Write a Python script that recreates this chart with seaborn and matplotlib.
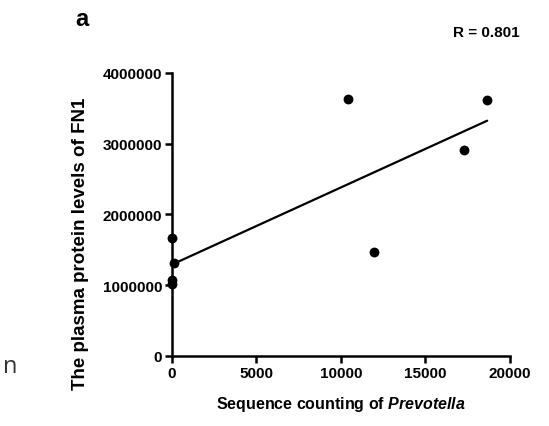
"""Scatter of FN1 plasma levels vs Prevotella counts, with linear fit"""

import matplotlib.pyplot as plt
import seaborn as sns
import pandas as pd

sns.set_theme(style="ticks")
plt.rcParams["font.family"] = ["Liberation Sans", "DejaVu Sans"]
plt.rcParams["text.color"] = "black"
plt.rcParams["axes.labelcolor"] = "black"
plt.rcParams["xtick.color"] = "black"
plt.rcParams["ytick.color"] = "black"
plt.rcParams["mathtext.fontset"] = "custom"
plt.rcParams["mathtext.it"] = "Liberation Sans:italic:bold"
plt.rcParams["mathtext.rm"] = "Liberation Sans:bold"

# values
prevotella = [0, 150, 0, 0, 10400, 11950, 17300, 18650]
fn1 = [1660000, 1310000, 1020000, 1080000, 3630000, 1470000, 2910000, 3620000]
x_ticks = [0, 5000, 10000, 15000, 20000]
y_ticks = [0, 1000000, 2000000, 3000000, 4000000]

df = pd.DataFrame({"prevotella": prevotella, "fn1": fn1})

fig = plt.figure(figsize=(5.49, 4.27), dpi=100)
ax = fig.add_axes([0.313, 0.164, 0.616, 0.663])

sns.regplot(
    data=df,
    x="prevotella",
    y="fn1",
    ci=None,
    truncate=True,
    color="black",
    scatter_kws={"s": 50, "clip_on": False, "zorder": 5, "linewidths": 0,
                 "alpha": 1, "color": "black"},
    line_kws={"lw": 1.6, "color": "black"},
    ax=ax,
)

ax.set_xlim(0, 20000)
ax.set_ylim(0, 4000000)
ax.set_xticks(x_ticks)
ax.set_yticks(y_ticks)
ax.set_xticklabels([str(v) for v in x_ticks], fontsize=11, fontweight="bold")
ax.set_yticklabels([str(v) for v in y_ticks], fontsize=11, fontweight="bold")
ax.tick_params(direction="out", length=5, width=1.8, color="black", pad=2)
for side in ["left", "bottom"]:
    ax.spines[side].set_linewidth(1.8)
    ax.spines[side].set_color("black")
sns.despine(ax=ax)

ax.set_xlabel("Sequence counting of $\\it{Prevotella}$", fontsize=11.5,
              fontweight="bold", labelpad=10)
ax.set_ylabel("The plasma protein levels of FN1", fontsize=13.5,
              fontweight="bold", labelpad=8)
ax.yaxis.set_label_coords(-0.245, 0.4)

fig.text(0.137, 0.955, "a", fontsize=17, fontweight="bold", ha="left", va="center")
fig.text(0.885, 0.923, "R = 0.801", fontsize=11, fontweight="bold",
         ha="center", va="center")
fig.text(0.005, 0.14, "n", fontsize=17, color="#333333", ha="left", va="center",
         family=["Open Sans", "DejaVu Sans"])

fig.savefig("out.png", dpi=100)
